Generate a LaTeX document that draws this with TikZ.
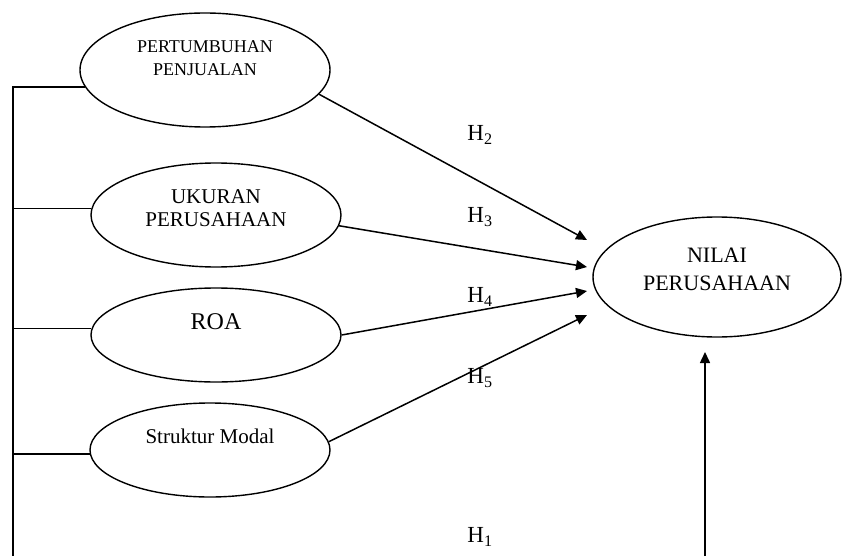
\documentclass[tikz,border=0pt]{standalone}
\usepackage{fontspec}
\setmainfont{Liberation Serif}
\usetikzlibrary{shapes.geometric,arrows.meta}

\begin{document}
\begin{tikzpicture}[x=1pt,y=-1pt,
    var/.style={draw,ellipse,line width=1.4pt,inner sep=0pt},
    arr/.style={line width=1.5pt,-{Triangle[length=11pt,width=10pt]}},
    hyp/.style={font=\fontsize{23}{25}\selectfont}]

    \useasboundingbox (0,0) rectangle (842,556);

    % variabel bebas
    \node[var,minimum width=250pt,minimum height=114pt,
      label={[yshift=12pt,align=center,font=\fontsize{18}{23}\selectfont]center:PERTUMBUHAN\\PENJUALAN}] (pj) at (205,70) {};
    \node[var,minimum width=250pt,minimum height=104pt,
      label={[yshift=7pt,align=center,font=\fontsize{21}{23}\selectfont]center:UKURAN\\PERUSAHAAN}] (uk) at (216,215) {};
    \node[var,minimum width=250pt,minimum height=94pt,
      label={[yshift=13pt,font=\fontsize{24}{26}\selectfont]center:ROA}] (roa) at (216,335) {};
    \node[var,minimum width=240pt,minimum height=94pt,
      label={[yshift=14pt,font=\fontsize{21}{23}\selectfont]center:Struktur Modal}] (sm) at (210,450) {};

    % variabel terikat
    \node[var,minimum width=248pt,minimum height=120pt,
      label={[yshift=8pt,align=center,font=\fontsize{22}{28}\selectfont]center:NILAI\\PERUSAHAAN}] (nv) at (717,277) {};

    \coordinate (t2) at (587,240);
    \coordinate (t3) at (587,267);
    \coordinate (t4) at (587,291);
    \coordinate (t5) at (587,315);
    \coordinate (bl) at (13,556);
    \coordinate (br) at (705,556);
    \coordinate (nt) at (705,352);

    \draw[arr] (pj.-12) -- (t2);
    \draw[arr] (uk.-5) -- (t3);
    \draw[arr] (roa.east) -- (t4);
    \draw[arr] (sm.4) -- (t5);

    % garis kiri
    \draw[line width=1.5pt] (pj.188) -| (bl);
    \draw[line width=1.5pt] (uk.177) -| (bl);
    \draw[line width=1.5pt] (roa.177) -| (bl);
    \draw[line width=1.5pt] (sm.182) -| (bl);
    \draw[arr] (br) -- (nt);

    \node[hyp] (h2) at (480,135) {H\textsubscript{2}};
    \node[hyp] (h3) at (480,217) {H\textsubscript{3}};
    \node[hyp] (h4) at (480,297) {H\textsubscript{4}};
    \node[hyp] (h5) at (480,378) {H\textsubscript{5}};
    \node[hyp] (h1) at (480,537) {H\textsubscript{1}};

\end{tikzpicture}
\end{document}
